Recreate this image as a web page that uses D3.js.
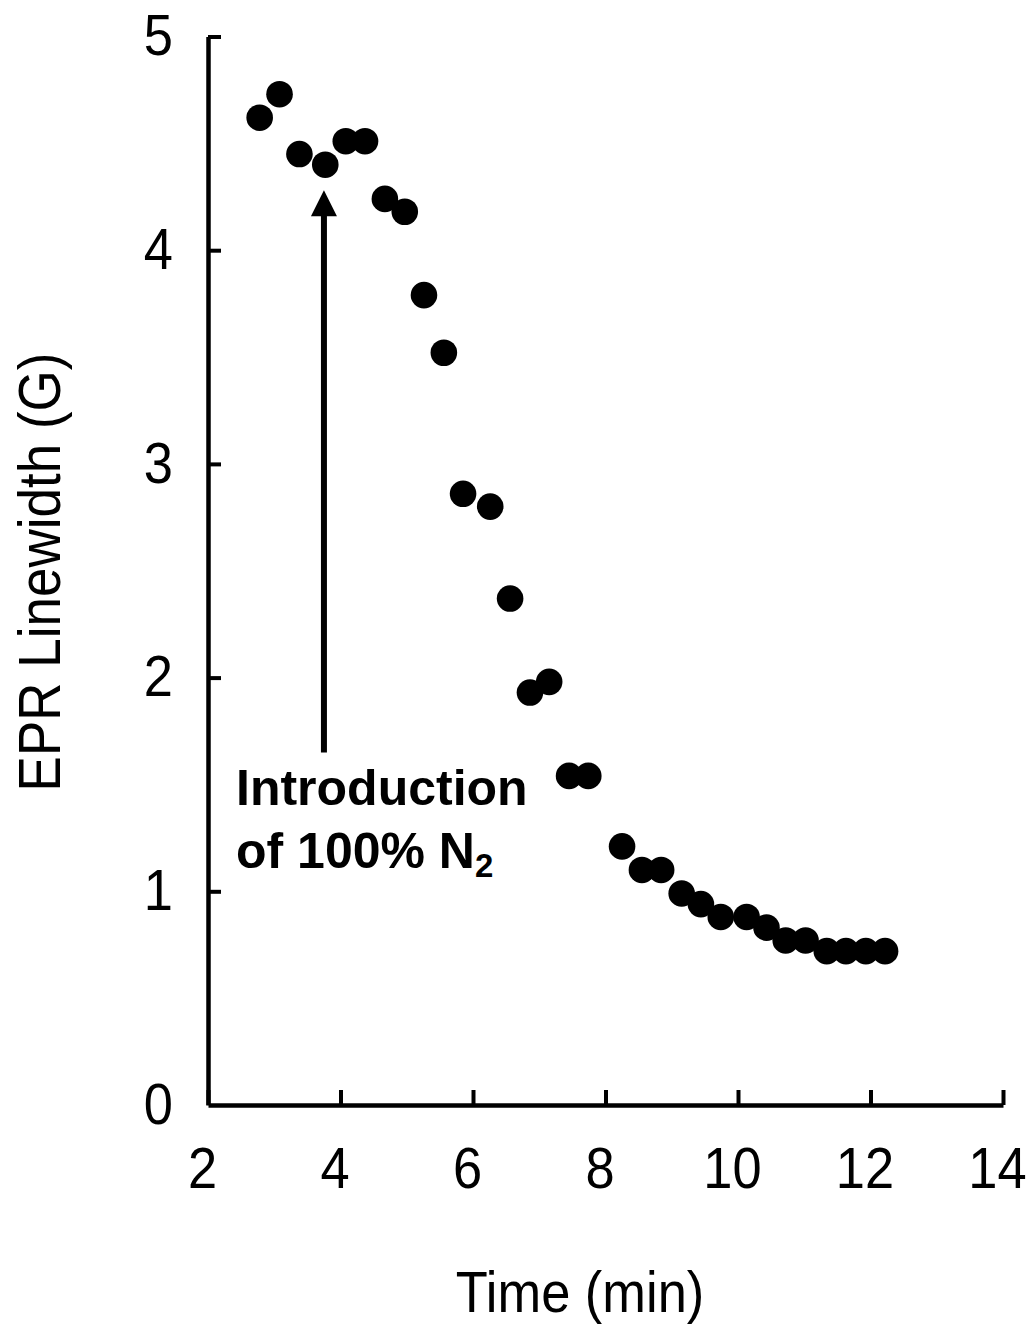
<!DOCTYPE html>
<html>
<head>
<meta charset="utf-8">
<script src="https://cdn.jsdelivr.net/npm/d3@7"></script>
<style>
  html, body { margin: 0; padding: 0; background: #fff; }
  svg text { font-family: "Liberation Sans", Arial, sans-serif; fill: #000; }
</style>
</head>
<body>
<svg id="chart" width="1029" height="1324"></svg>
<script>
// values
const time = [2.78, 3.08, 3.38, 3.77, 4.08, 4.37, 4.67, 4.97, 5.26, 5.56,
  5.85, 6.26, 6.56, 6.86, 7.15, 7.45, 7.74, 8.25, 8.55, 8.84,
  9.15, 9.44, 9.74, 10.13, 10.43, 10.72, 11.02, 11.34, 11.63, 11.93, 12.22]
const linewidth = [4.62, 4.73, 4.45, 4.40, 4.51, 4.51, 4.24, 4.18, 3.79, 3.52,
  2.86, 2.80, 2.37, 1.93, 1.98, 1.54, 1.54, 1.21, 1.10, 1.10,
  0.99, 0.94, 0.88, 0.88, 0.83, 0.77, 0.77, 0.72, 0.72, 0.72, 0.72]
const xTicks = [2, 4, 6, 8, 10, 12, 14]
const yTicks = [0, 1, 2, 3, 4, 5]
const arrowAt = { x: 3.75, from: 1.65, to: 4.28 }

const margin = { top: 36.5, right: 26, bottom: 219, left: 208 }
const W = 1029, H = 1324
const sx = 0.92 // the source text is a bit narrow
const svg = d3.select('#chart')

const x = d3.scaleLinear().domain([2, 14]).range([margin.left, W - margin.right])
const y = d3.scaleLinear().domain([0, 5]).range([H - margin.bottom, margin.top])

const styleAxis = (g) => {
  g.select('.domain').attr('stroke-width', 4.5).attr('stroke', '#000')
  g.selectAll('.tick line').attr('stroke-width', 4).attr('stroke', '#000')
  g.selectAll('.tick text')
    .style('font-family', '"Liberation Sans", Arial, sans-serif')
    .style('font-size', '57px')
    .attr('fill', '#000')
}

// x axis, ticks point inward
svg.append('g')
  .attr('transform', `translate(0,${y(0)})`)
  .call(d3.axisBottom(x).tickValues(xTicks).tickFormat(d3.format('d'))
    .tickSizeInner(-15).tickSizeOuter(0).tickPadding(43))
  .call(styleAxis)
  .call((g) => g.selectAll('.tick text').attr('x', -6 / sx).attr('transform', `scale(${sx},1)`))

// y axis, ticks point inward
svg.append('g')
  .attr('transform', `translate(${x(2)},0)`)
  .call(d3.axisLeft(y).tickValues(yTicks).tickFormat(d3.format('d'))
    .tickSizeInner(-13).tickSizeOuter(0).tickPadding(35))
  .call(styleAxis)
  .call((g) => g.selectAll('.tick text').attr('x', -35 / sx).attr('transform', `scale(${sx},1)`))
  .call((g) => g.selectAll('.tick').filter((d) => d === 0).select('line').remove())

// points
svg.append('g')
  .selectAll('circle')
  .data(time.map((t, i) => [t, linewidth[i]]))
  .join('circle')
  .attr('cx', (d) => x(d[0]))
  .attr('cy', (d) => y(d[1]))
  .attr('r', 13.3)
  .attr('fill', '#000')

// arrow for N2 introduction
const ax = x(arrowAt.x)
const tipY = y(arrowAt.to)
svg.append('line')
  .attr('x1', ax).attr('x2', ax)
  .attr('y1', y(arrowAt.from)).attr('y2', tipY + 22)
  .attr('stroke', '#000').attr('stroke-width', 6)
svg.append('path')
  .attr('d', `M${ax},${tipY} L${ax - 13},${tipY + 26} L${ax + 13},${tipY + 26} Z`)
  .attr('fill', '#000')

const note = svg.append('g')
  .style('font-weight', 'bold')
  .style('font-size', '50px')
note.append('text').attr('x', 236).attr('y', 805).text('Introduction')
const l2 = note.append('text').attr('x', 236).attr('y', 868)
l2.append('tspan').text('of 100% N')
l2.append('tspan').attr('dy', 9).style('font-size', '33px').text('2')

// axis titles
svg.append('text')
  .attr('transform', `translate(580,1312) scale(${sx},1)`)
  .attr('text-anchor', 'middle')
  .style('font-size', '57px')
  .text('Time (min)')

svg.append('text')
  .attr('transform', `translate(60,572) rotate(-90) scale(1,1.1)`)
  .attr('text-anchor', 'middle')
  .style('font-size', '53px')
  .text('EPR Linewidth (G)')
</script>
</body>
</html>
